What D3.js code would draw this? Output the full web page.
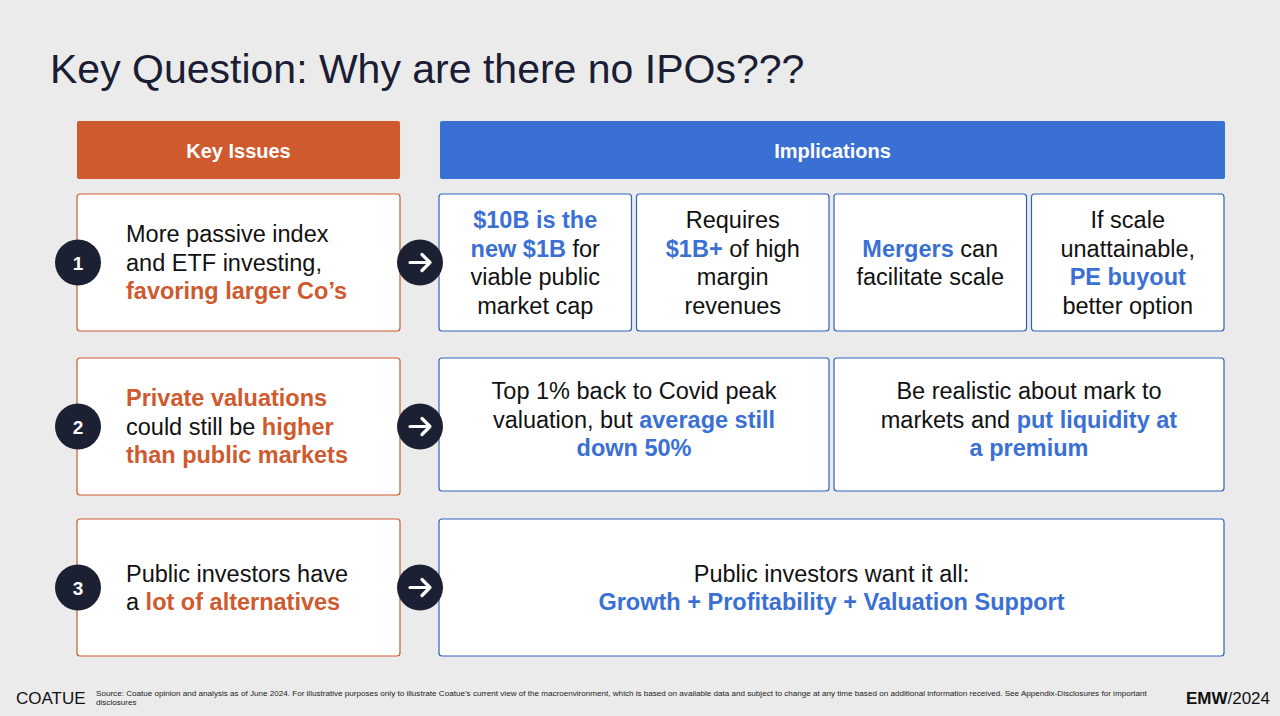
<!DOCTYPE html>
<html lang="en">
<head>
<meta charset="utf-8">
<title>Key Question</title>
<script src="https://d3js.org/d3.v7.min.js"></script>
<style>
  html, body { margin: 0; padding: 0; background: #ebebeb; }
  text { font-family: "Liberation Sans", Arial, sans-serif; }
</style>
</head>
<body>
<script>
// ---- data ----
var title = "Key Question: Why are there no IPOs???";
var headers = ["Key Issues", "Implications"];
var rowNumbers = ["1", "2", "3"];
// segments: [text, style]  n = normal, o = bold orange, b = bold blue
var issues = [
  [[["More passive index","n"]],[["and ETF investing,","n"]],[["favoring larger Co’s","o"]]],
  [[["Private valuations","o"]],[["could still be ","n"],["higher","o"]],[["than public markets","o"]]],
  [[["Public investors have","n"]],[["a ","n"],["lot of alternatives","o"]]]
];
var implications = [
  [
    [[["$10B is the","b"]],[["new $1B","b"],[" for","n"]],[["viable public","n"]],[["market cap","n"]]],
    [[["Requires","n"]],[["$1B+","b"],[" of high","n"]],[["margin","n"]],[["revenues","n"]]],
    [[["Mergers","b"],[" can","n"]],[["facilitate scale","n"]]],
    [[["If scale","n"]],[["unattainable,","n"]],[["PE buyout","b"]],[["better option","n"]]]
  ],
  [
    [[["Top 1% back to Covid peak","n"]],[["valuation, but ","n"],["average still","b"]],[["down 50%","b"]]],
    [[["Be realistic about mark to","n"]],[["markets and ","n"],["put liquidity at","b"]],[["a premium","b"]]]
  ],
  [
    [[["Public investors want it all:","n"]],[["Growth + Profitability + Valuation Support","b"]]]
  ]
];
var footLogo = "COATUE";
var footSource = ["Source: Coatue opinion and analysis as of June 2024. For illustrative purposes only to illustrate Coatue’s current view of the macroenvironment, which is based on available data and subject to change at any time based on additional information received. See Appendix-Disclosures for important", "disclosures"];
var footRight = ["EMW", "/2024"];

// ---- layout ----
var W = 1280, H = 716;
var orange = "#cf5a2e", blue = "#3a70d4", dark = "#1c2033";
var boxBlue = "#2f62bf";
var rowTop = [194, 358, 519], rowH = [137, 137, 137], rightH = [137, 133, 137];
var leftX = 77, leftW = 323, rightX = 439, rightW = 785, gap = 5;
var lineH = 28.5, fs = 23.5;

var svg = d3.select("body").append("svg").attr("width", W).attr("height", H);
svg.append("rect").attr("width", W).attr("height", H).attr("fill", "#ebebeb");

svg.append("text").attr("x", 50).attr("y", 83).attr("font-size", 41)
  .attr("fill", "#1a1d33").text(title);

// headers
var hdr = [{x: leftX, w: leftW, c: orange}, {x: rightX + 1, w: rightW, c: blue}];
headers.forEach(function(h, i) {
  svg.append("rect").attr("x", hdr[i].x).attr("y", 121).attr("width", hdr[i].w).attr("height", 58)
    .attr("rx", 2).attr("fill", hdr[i].c);
  svg.append("text").attr("x", hdr[i].x + hdr[i].w / 2).attr("y", 158).attr("text-anchor", "middle")
    .attr("font-size", 20).attr("font-weight", "bold").attr("fill", "#fff").text(h);
});

function drawLines(lines, x, cy, anchor) {
  var t = svg.append("text").attr("font-size", fs).attr("text-anchor", anchor);
  var y0 = cy - (lines.length - 1) * lineH / 2 + fs * 0.36;
  lines.forEach(function(line, li) {
    line.forEach(function(seg, si) {
      var ts = t.append("tspan").text(seg[0])
        .attr("font-weight", seg[1] === "n" ? "normal" : "bold")
        .attr("fill", seg[1] === "o" ? orange : seg[1] === "b" ? blue : "#111");
      if (si === 0) ts.attr("x", x).attr("y", y0 + li * lineH);
    });
  });
}

issues.forEach(function(lines, r) {
  var y = rowTop[r], h = rowH[r], cy = y + h / 2;
  svg.append("rect").attr("x", leftX).attr("y", y).attr("width", leftW).attr("height", h)
    .attr("rx", 3).attr("fill", "#fff").attr("stroke", orange).attr("stroke-width", 1.2);
  drawLines(lines, 126, cy, "start");

  // number circle
  svg.append("circle").attr("cx", 78).attr("cy", cy).attr("r", 23).attr("fill", dark);
  svg.append("text").attr("x", 78).attr("y", cy + 7).attr("text-anchor", "middle")
    .attr("font-size", 19).attr("font-weight", "bold").attr("fill", "#fff").text(rowNumbers[r]);

  // right boxes
  var boxes = implications[r], n = boxes.length;
  var bw = (rightW - gap * (n - 1)) / n;
  boxes.forEach(function(bl, k) {
    var bx = rightX + k * (bw + gap);
    svg.append("rect").attr("x", bx).attr("y", y).attr("width", bw).attr("height", rightH[r])
      .attr("rx", 3).attr("fill", "#fff").attr("stroke", boxBlue).attr("stroke-width", 1.2);
    drawLines(bl, bx + bw / 2, y + rightH[r] / 2 + (r === 1 ? -5 : 0), "middle");
  });

  // arrow circle
  var ax = 420;
  svg.append("circle").attr("cx", ax).attr("cy", cy).attr("r", 23).attr("fill", dark);
  svg.append("path")
    .attr("d", "M" + (ax - 10) + "," + cy + "H" + (ax + 10) + "M" + (ax + 2) + "," + (cy - 8) + "L" + (ax + 10) + "," + cy + "L" + (ax + 2) + "," + (cy + 8))
    .attr("fill", "none").attr("stroke", "#fff").attr("stroke-width", 3.2)
    .attr("stroke-linecap", "round").attr("stroke-linejoin", "round");
});

// footer
svg.append("text").attr("x", 16).attr("y", 704).attr("font-size", 17).attr("fill", "#111").text(footLogo);
var fsrc = svg.append("text").attr("font-size", 8.1).attr("fill", "#222");
footSource.forEach(function(s, i) {
  fsrc.append("tspan").attr("x", 96).attr("y", 696 + i * 9).text(s);
});
var fr = svg.append("text").attr("x", 1270).attr("y", 704).attr("text-anchor", "end").attr("font-size", 17).attr("fill", "#111");
fr.append("tspan").attr("font-weight", "bold").text(footRight[0]);
fr.append("tspan").text(footRight[1]);
</script>
</body>
</html>
